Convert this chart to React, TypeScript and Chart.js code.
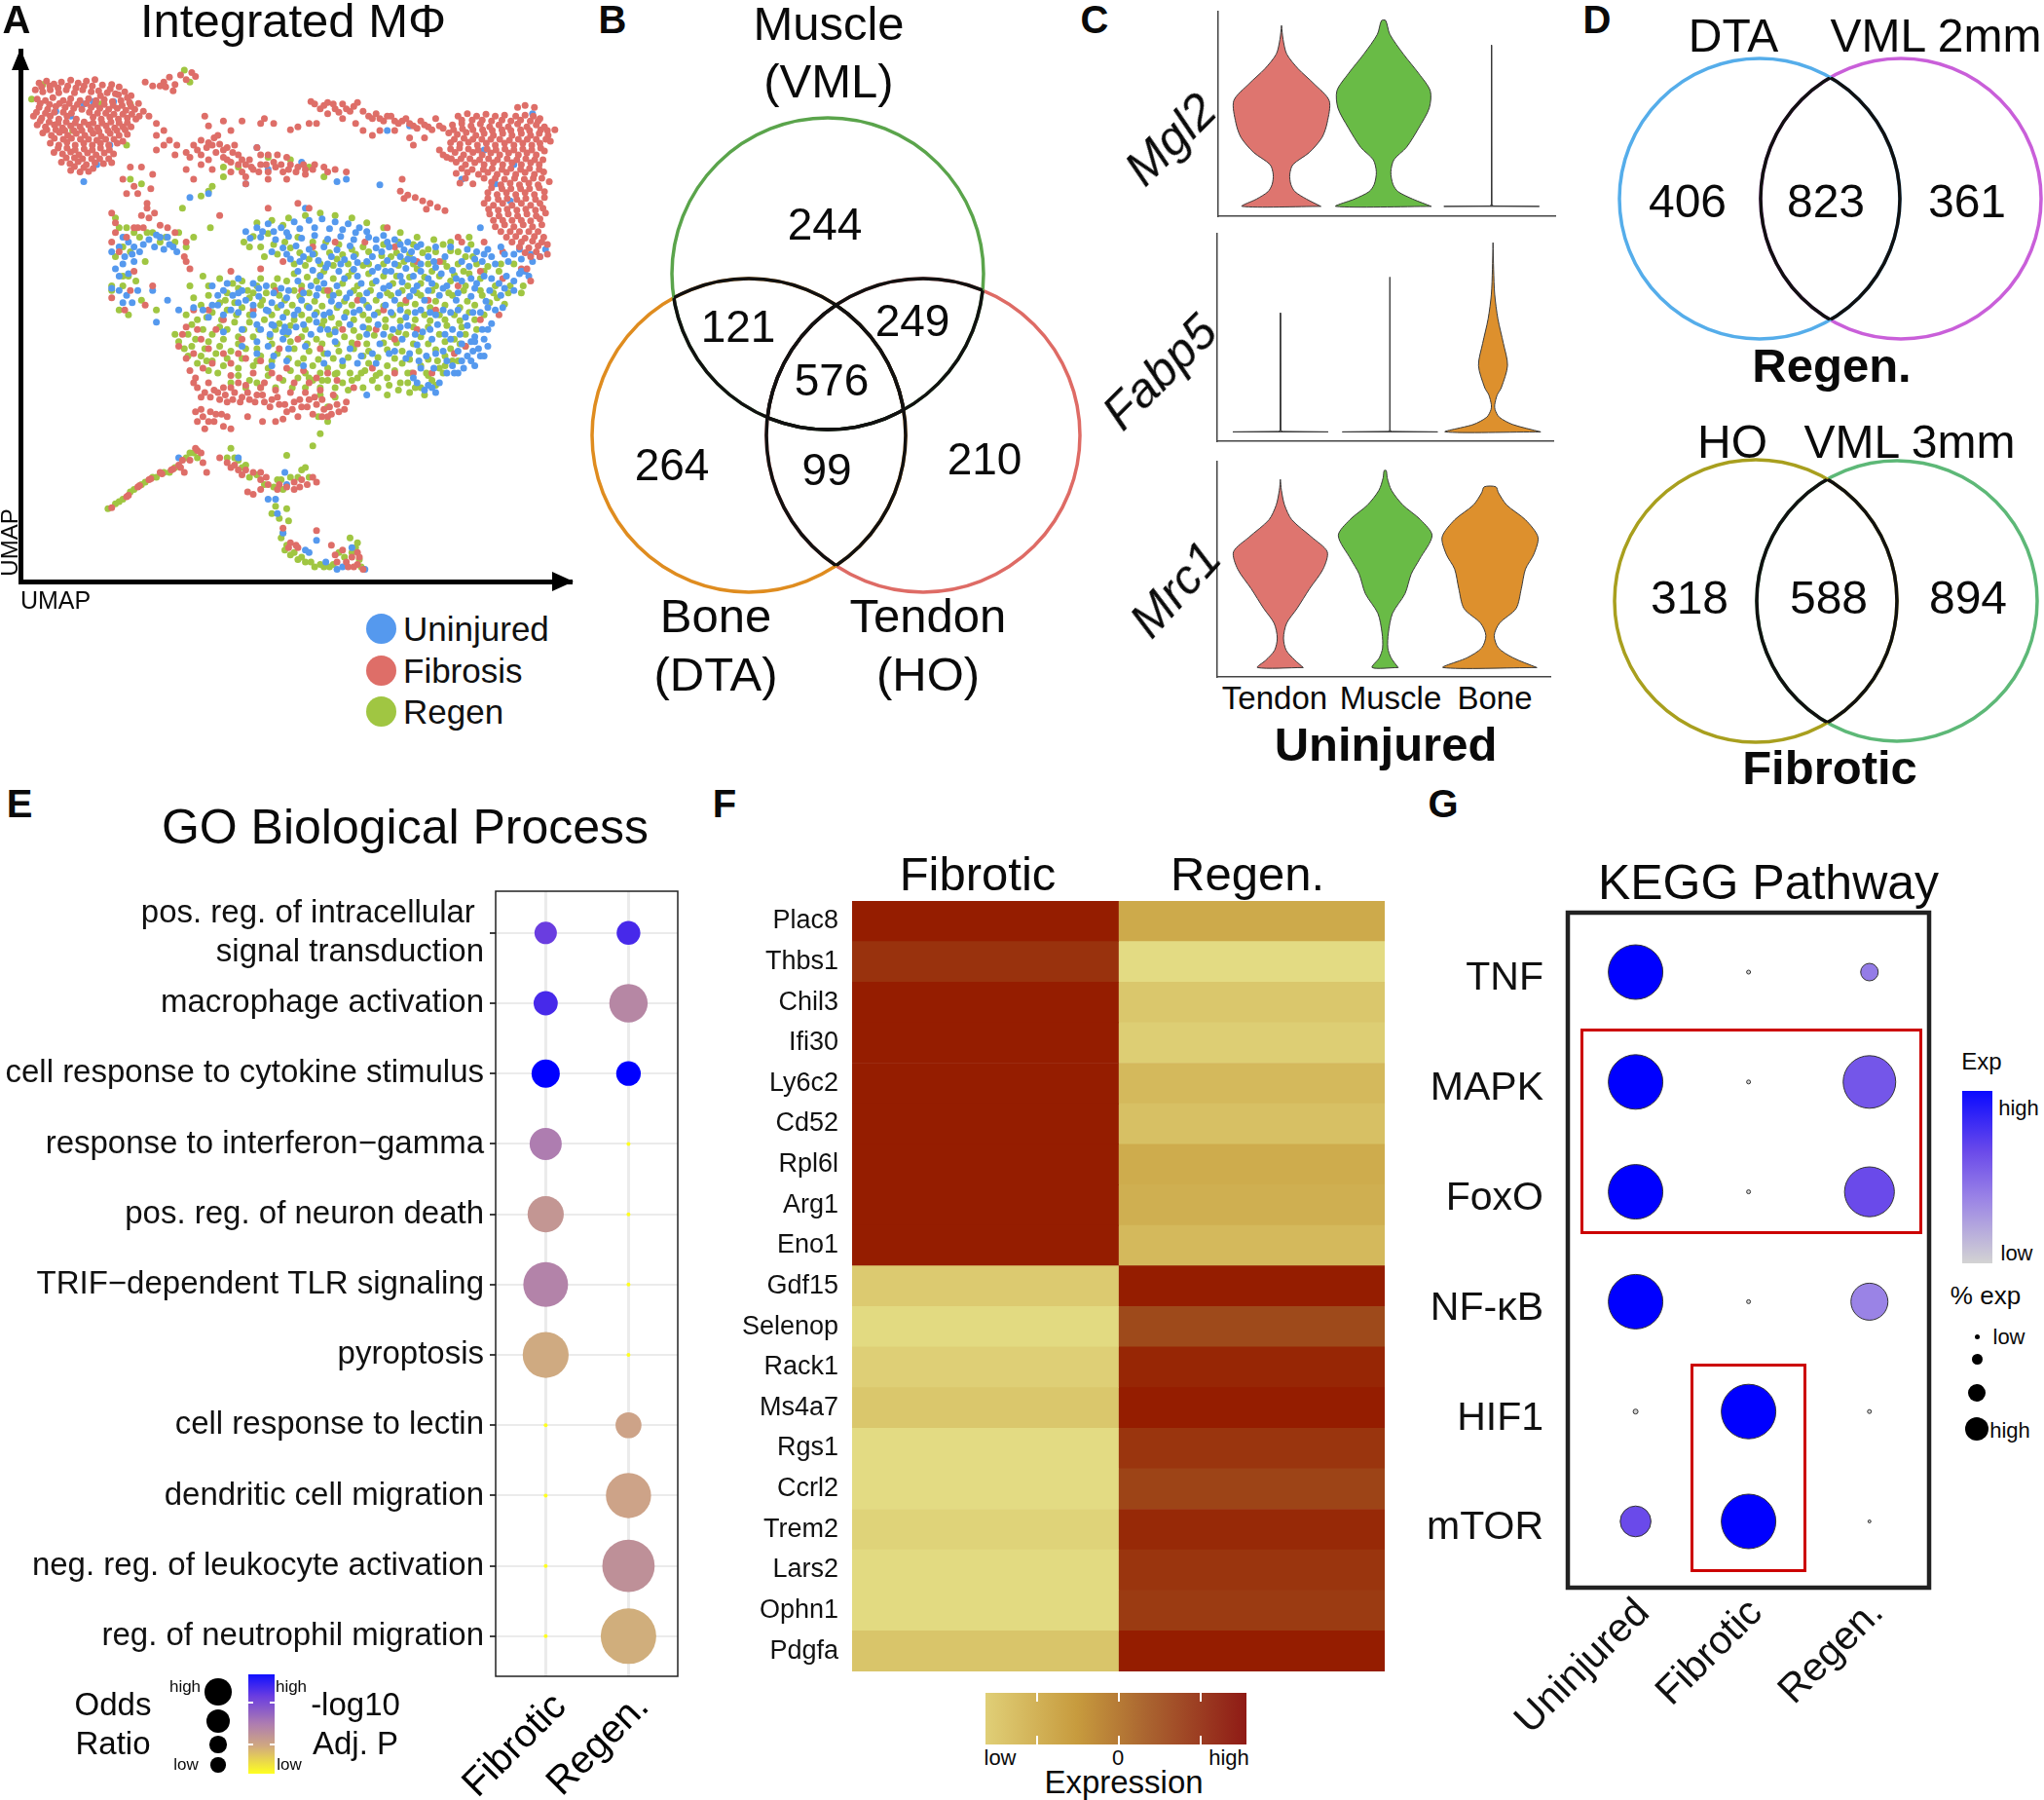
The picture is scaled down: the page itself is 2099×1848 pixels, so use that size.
import React, { useEffect, useRef } from "react";
import { Chart, registerables } from "chart.js";
Chart.register(...registerables);

const FONT = '"Liberation Sans", Arial, sans-serif';

// ---------- Panel A: UMAP embedding (x,y pairs, arbitrary UMAP units; y axis reversed)
const umapFibrosis = [
105,172,125,168,145,174,165,170,190,166,210,172,232,168,255,165,275,176,300,175,320,180,95,186,115,190,135,186,158,192,178,186,200,192,222,186,245,190,265,188,288,192,310,194,335,190,352,198,
100,205,122,208,142,202,170,208,190,204,215,208,238,204,258,208,280,206,302,210,325,208,348,212,372,214,105,222,128,226,150,220,175,222,198,224,220,226,245,222,268,224,292,226,315,224,338,228,362,226,385,230,
90,240,112,244,135,240,158,246,180,240,205,246,250,242,272,246,295,242,318,246,342,244,365,246,100,258,122,262,146,258,168,264,190,260,215,262,238,258,262,264,285,260,308,264,330,262,352,262,
115,275,138,280,160,274,182,280,205,276,228,280,250,276,272,282,296,276,320,280,342,278,135,296,158,300,180,294,202,300,225,296,248,300,270,296,292,300,315,296,145,315,168,318,190,314,212,320,235,316,258,320,280,316,305,318,
165,335,188,338,210,334,232,340,255,336,278,338,300,336,190,352,215,355,238,354,
112,180,134,178,156,182,182,178,204,182,226,178,248,178,270,198,296,184,318,196,342,202,108,214,133,216,160,214,186,214,208,216,232,214,256,216,280,216,304,218,328,218,352,220,374,240,
98,232,122,234,146,232,170,232,192,234,240,232,262,234,284,234,306,236,330,236,354,236,108,250,132,252,156,254,178,252,202,254,226,252,250,254,274,254,298,252,320,254,342,254,
126,268,150,268,174,270,198,270,220,270,244,268,266,272,290,270,314,270,336,268,146,286,170,288,192,286,216,288,238,288,260,290,284,288,306,288,330,292,
156,306,180,306,202,310,226,308,248,310,270,306,294,310,178,326,200,326,222,328,246,328,268,328,292,328,200,344,225,346,250,348,
440,170,455,160,470,175,485,155,500,165,515,150,525,158,445,180,465,188,430,178,390,170,410,178,400,240,420,255,440,270,455,290,475,300,350,345,330,370,360,385,405,390,410,360,380,345,
420,280,440,300,470,320,500,350,520,370,420,310,370,400,395,430,340,400,300,440,310,460,540,340,570,350,620,355,610,330,640,340,660,365,720,370,770,370,820,360,
500,315,520,300,540,290,560,295,575,285,590,298,610,305,630,300,540,320,560,330,580,315,600,325,620,335,640,320,660,340,680,350,700,340,720,355,740,345,760,355,780,340,800,345,820,350,650,355,670,330,700,320,690,305,720,320,745,320,770,325,845,340,870,345,900,350,930,355,880,355,550,240,600,250,650,250,700,255,710,245,735,255,560,260,585,280,620,270,
510,325,530,310,555,305,570,300,600,310,625,315,650,330,675,345,695,355,715,340,735,335,755,340,775,350,795,355,815,340,840,350,
835,210,860,225,880,212,900,225,920,215,940,230,960,212,975,230,990,240,1010,235,1030,250,1050,240,1070,255,1090,245,1110,260,1130,250,1150,262,1170,245,1190,265,850,255,800,262,780,268,830,255,920,245,975,270,1000,280,880,235,955,255,1020,270,1060,270,1100,285,1110,300,1140,285,1180,310,1200,325,
845,215,870,218,895,215,910,232,930,225,950,220,1000,245,1020,245,1040,240,1060,250,1080,250,1100,255,1120,265,1140,258,1160,268,1180,260,
1390,222,1410,218,1435,222,1230,240,1255,235,1280,240,1305,236,1330,240,1355,238,1385,240,1410,238,1432,240,1450,245,1215,258,1240,255,1265,260,1290,256,1315,262,1340,258,1365,262,1390,256,1415,262,1440,258,1462,262,1490,268,
1205,275,1228,278,1252,274,1278,280,1300,276,1325,280,1350,276,1375,280,1400,276,1425,280,1448,276,1472,280,1210,295,1235,298,1258,294,1282,300,1306,296,1330,300,1355,296,1380,300,1404,296,1428,300,1450,296,1478,292,
1190,320,1222,315,1245,320,1270,315,1295,320,1318,316,1342,320,1366,316,1392,320,1415,316,1440,320,1462,312,1225,335,1250,340,1275,336,1300,340,1325,336,1350,340,1375,336,1400,340,1425,336,1448,340,
1225,358,1255,356,1285,360,1310,356,1335,360,1360,356,1385,360,1410,356,1435,360,1460,355,1235,378,1270,380,1320,376,1345,382,1370,378,1395,382,1420,378,1445,382,1475,375,1310,398,1335,402,1360,398,1385,402,1410,398,1435,402,1462,396,
1300,420,1325,424,1350,420,1375,424,1400,420,1425,424,1450,420,1315,442,1340,446,1365,442,1390,446,1415,442,1440,446,1465,440,1330,468,1355,464,1380,468,1405,464,1430,468,1455,464,1360,490,1385,488,1410,492,1435,488,1460,490,
1240,248,1268,248,1295,248,1320,250,1348,248,1372,250,1398,248,1424,250,1445,250,1470,270,1218,268,1242,266,1270,268,1296,268,1322,270,1348,268,1372,270,1398,268,1422,270,1452,268,
1220,288,1246,286,1270,288,1294,288,1318,288,1342,288,1368,290,1392,288,1416,288,1440,288,1466,288,1210,308,1234,306,1258,308,1284,310,1308,308,1332,310,1356,308,1380,310,1404,308,1428,310,1452,306,
1212,328,1238,328,1262,328,1288,330,1312,328,1336,330,1362,328,1388,330,1412,328,1436,330,1458,330,1240,348,1268,350,1298,350,1322,348,1348,350,1372,348,1398,350,1422,348,1448,350,
1250,368,1300,368,1330,368,1355,370,1382,368,1408,370,1432,368,1455,368,1320,388,1348,390,1372,390,1398,390,1422,390,1448,388,1310,410,1338,412,1362,410,1388,412,1412,410,1438,412,1462,408,
1312,432,1338,434,1362,432,1388,434,1412,432,1438,434,1458,430,1325,455,1350,455,1375,455,1400,455,1425,456,1450,452,1345,478,1370,478,1395,478,1420,478,1445,478,1375,500,1400,500,1430,498,1455,500,1410,522,1440,520,
1395,510,1420,512,1445,508,1470,505,1425,530,1450,530,1470,525,1415,555,1425,580,1075,395,1095,403,1115,408,1135,415,1155,420,1175,428,1195,435,1085,410,1145,432,
310,480,340,490,320,520,370,470,400,450,430,465,470,480,495,530,510,555,360,560,410,590,300,615,335,640,380,445,395,420,415,440,300,500,360,470,385,470,450,470,500,500,350,600,390,630,
480,715,490,690,500,740,510,765,525,780,545,760,560,790,530,800,550,810,575,805,600,800,590,825,610,830,630,810,650,820,670,825,640,790,620,775,690,815,710,830,730,825,750,835,770,850,790,830,810,840,830,825,850,835,870,845,890,855,910,850,925,845,865,825,880,860,840,855,800,860,760,865,525,850,545,860,565,850,530,870,550,885,575,870,600,880,620,885,665,860,705,870,740,870,
520,790,540,820,565,820,585,810,605,815,625,825,645,830,665,810,685,830,705,815,725,840,745,820,765,835,785,845,805,825,825,840,845,820,865,860,885,840,905,835,540,845,560,870,580,855,595,855,610,860,620,800,660,795,700,800,740,805,780,810,820,810,860,805,895,815,930,830,
590,945,610,955,630,960,650,980,680,975,700,990,715,985,665,1015,680,1020,750,1000,770,1005,790,1010,810,990,850,995,840,985,620,965,640,970,660,970,700,975,720,1000,745,1010,790,995,805,1005,825,1000,700,1010,
300,1048,340,1025,370,1005,400,990,430,975,460,970,480,960,495,975,510,950,530,930,545,955,555,975,345,1022,375,1002,405,988,435,978,465,968,485,965,490,950,525,925,540,935,
760,1090,780,1120,800,1130,850,1095,890,1125,920,1135,945,1150,960,1165,935,1170,905,1160,975,1175,960,1140,775,1130,795,1125,900,1145,930,1160,950,1170,965,1150,1080,370,1230,490,830,430,720,430,800,420,660,380,590,445,500,540,
];
const umapFibrosisCore = [
560,640,600,660,650,700,700,745,750,720,800,700,860,720,920,680,960,710,1010,680,1060,700,1120,680,1170,640,1230,590,1290,560,1350,575,1400,555,1120,540,1060,510,980,500,900,500,840,510,760,540,700,555,620,560,580,680,520,640,540,700,520,730,570,750,620,750,660,740,730,770,770,760,830,790,880,770,950,800,1000,760,1060,770,1110,770,1160,770,1220,730,1250,715,1290,660,1340,650,1150,620,1090,620,1030,640,960,620,880,600,810,600,740,600,680,640,1180,540,1240,500,1300,500,1350,520,1040,470,
500,675,530,680,560,720,600,730,640,730,680,770,710,790,750,780,790,790,815,765,850,780,905,785,
];
const umapUninjured = [
660,478,690,470,720,462,755,470,790,458,830,455,865,452,900,458,935,462,965,470,700,490,740,495,775,488,810,492,845,486,880,494,915,488,950,495,990,490,1030,486,1060,495,1095,500,
760,512,795,508,830,515,870,510,905,516,940,508,1010,512,1045,510,1085,516,1120,510,780,535,815,530,855,538,890,530,925,536,960,542,1000,530,1040,538,1075,530,1110,536,1150,530,1280,520,1310,515,1345,510,1380,525,
840,558,875,552,910,560,950,556,1015,552,1050,560,1090,554,1130,560,1170,552,1215,558,1260,550,1295,540,1330,545,1365,540,1400,535,1430,540,1465,515,
640,575,570,590,600,600,680,585,715,590,755,595,800,580,835,590,870,585,905,590,970,585,1010,580,1045,590,1080,582,1120,590,1160,585,1200,590,1240,580,1280,585,1320,575,1360,570,1395,565,
545,640,585,630,625,610,660,620,695,612,730,625,770,615,810,620,850,610,890,622,930,615,975,620,1020,610,1060,620,1100,612,1140,620,1180,610,1225,620,1265,612,1305,622,1345,610,1380,600,
640,645,680,650,720,642,760,655,800,640,845,650,885,645,925,655,965,640,1005,650,1050,645,1090,655,1130,640,1170,650,1210,645,1250,655,1290,645,1330,640,
700,680,735,672,775,685,815,670,860,680,975,675,1015,670,1055,680,1095,672,1135,685,1175,670,1215,680,1255,672,1295,680,1320,668,690,705,720,715,760,700,900,705,1020,710,1080,700,1120,712,1160,700,1265,705,1300,700,1285,720,1310,715,
1240,745,1215,755,1255,735,1290,735,1275,755,1230,770,1200,770,960,750,1150,795,1120,790,1170,810,985,815,
672,492,705,478,735,478,770,480,805,472,845,470,885,472,920,474,955,480,985,478,1010,495,1040,500,1075,505,1105,520,730,520,770,525,805,540,840,525,880,545,915,545,950,530,985,540,1025,520,1060,545,1095,535,1130,545,1165,540,1195,530,1240,540,1275,535,1320,530,1355,525,1395,515,1425,525,1450,530,
800,560,860,570,925,575,960,570,1000,560,1035,560,1075,570,1110,570,1150,575,1185,565,1225,575,1265,575,1300,570,1340,585,1380,580,1410,560,610,585,650,600,695,595,735,605,775,600,815,605,855,595,895,610,940,605,985,605,1030,595,1070,605,1110,600,1150,600,1190,595,1230,605,1275,595,1315,600,1355,595,
560,655,600,650,640,625,680,630,715,640,755,630,790,650,830,635,870,650,910,630,950,645,990,635,1035,630,1075,640,1115,645,1155,645,1190,640,1230,640,1270,645,1310,635,1350,635,600,685,650,680,690,670,725,690,765,675,795,675,835,690,880,680,940,670,985,690,1030,690,1075,675,1115,690,1155,680,1195,690,1235,690,1275,695,1310,680,
650,715,735,735,775,720,820,715,880,730,940,720,1000,730,1060,725,1100,730,1145,735,1190,725,1230,725,1270,725,1300,735,1245,760,1265,745,1220,770,1180,790,1110,780,1140,805,1160,800,1130,760,1165,760,1200,745,
1130,505,1170,510,1210,510,1255,515,1300,525,1400,560,1420,570,1275,705,1240,710,1210,700,1170,730,1125,745,1090,740,1045,730,1010,750,970,735,920,745,870,750,815,755,770,745,730,755,690,730,900,685,850,665,760,685,730,670,620,640,585,610,640,605,520,635,570,630,
320,510,345,500,375,520,400,495,430,490,455,505,475,520,440,515,335,530,360,540,310,555,345,565,320,600,300,595,330,625,370,600,410,600,450,620,480,640,420,665,330,490,360,510,385,505,415,510,420,485,450,490,465,510,330,545,355,525,300,520,320,570,340,610,355,625,
510,408,560,400,690,305,820,430,930,370,1020,382,905,375,660,380,720,350,810,335,480,945,640,945,765,975,740,1030,760,1100,820,1135,850,1115,905,1175,980,1175,945,1130,770,1000,720,1030,745,1060,830,1140,875,1160,920,1170,
150,230,190,240,225,215,250,210,305,210,295,300,260,340,225,375,1100,260,1040,270,1240,370,1300,310,1330,380,1370,415,1430,235,1380,340,1290,470,
];
const umapRegen = [
680,488,720,482,760,465,735,505,780,512,655,500,700,510,745,525,805,522,845,524,885,522,920,526,955,525,990,520,1025,528,1065,522,1100,525,1135,522,1170,520,1210,518,1250,530,
820,548,860,545,895,548,935,545,975,548,1030,545,1070,548,1110,545,1150,545,1190,540,1230,545,1270,530,
510,590,545,570,590,575,625,585,665,600,700,575,745,575,790,565,825,572,860,568,895,575,935,570,990,565,1030,570,1065,570,1100,572,1140,572,1180,570,1220,568,1260,565,1300,560,1340,560,
520,615,560,610,605,620,640,595,680,605,715,605,750,610,790,600,830,605,870,600,910,605,950,600,995,600,1040,605,1080,600,1120,605,1160,600,1205,605,1245,600,1290,600,1330,590,1370,590,1405,590,
500,650,530,660,570,645,610,640,650,635,700,630,745,635,785,630,825,632,865,632,905,635,945,630,985,630,1030,632,1075,630,1115,628,1155,635,1195,630,1235,635,1275,630,1315,625,1355,628,
505,690,545,680,590,675,630,665,670,665,710,660,750,668,790,660,830,660,870,662,910,668,950,660,990,660,1035,660,1075,662,1115,660,1155,662,1195,660,1235,662,1275,660,
470,690,515,715,560,705,600,700,640,695,680,695,725,695,770,690,810,695,850,700,885,690,925,695,965,695,1005,692,1050,695,1090,690,1130,695,1180,690,1220,700,1250,690,
540,735,580,730,620,725,660,720,700,735,745,730,790,720,830,725,870,730,910,725,950,720,990,725,1040,722,1080,725,1125,725,1170,722,1210,720,
560,765,600,755,640,760,680,755,720,760,800,750,840,755,880,760,920,755,990,750,1040,755,1080,750,1130,755,1175,745,
670,785,690,790,760,785,800,780,840,785,880,785,920,790,960,780,1000,785,1040,780,1095,790,1130,800,1160,785,1190,770,1040,815,1100,810,1140,815,860,815,900,820,880,840,855,860,
670,510,710,530,765,500,800,490,840,500,875,500,910,505,945,515,975,510,1030,505,1070,500,1110,505,1150,515,1190,505,1230,520,1265,505,790,545,830,535,870,560,905,535,945,560,990,545,1050,530,1085,540,1120,555,1160,560,1200,550,1245,560,1280,545,1310,550,1345,545,1380,545,
560,590,610,605,650,580,690,590,735,590,770,580,810,590,850,580,885,600,920,585,960,590,1000,585,1055,585,1095,590,1130,585,1170,590,1210,580,1250,590,1290,575,1325,605,1365,605,1400,605,540,630,590,625,630,625,670,615,705,620,765,620,805,612,845,622,885,610,925,622,965,610,1010,620,1050,610,1090,625,1130,610,1170,622,1215,610,1255,622,1295,610,1335,615,
515,670,555,655,595,660,635,650,670,650,730,650,770,645,810,650,850,645,890,655,930,645,975,650,1015,645,1055,650,1095,645,1140,650,1180,650,1220,650,1260,645,1300,650,525,700,570,690,610,680,655,680,695,680,740,680,780,672,820,680,865,672,900,680,950,682,990,678,1035,675,1070,685,1110,675,1150,675,1200,672,1240,675,1280,680,
495,720,550,720,590,715,640,710,690,720,730,710,780,705,825,710,865,710,905,710,945,708,985,710,1030,708,1065,708,1110,710,1150,710,1195,705,1235,710,570,745,610,740,650,740,690,745,730,745,775,740,815,740,855,742,895,740,935,738,975,735,1015,738,1060,740,1100,742,1150,742,1195,735,
640,775,720,775,780,765,820,770,860,770,900,772,940,770,980,765,1020,770,1060,765,1105,770,1145,770,785,800,820,800,860,800,900,800,935,805,975,800,1015,800,1070,805,1115,800,1170,795,
480,705,505,735,530,750,555,745,585,770,620,790,660,800,700,800,740,800,
690,460,730,455,775,450,820,445,860,440,900,445,945,450,985,460,1030,470,1075,480,1120,490,1165,495,1210,500,1260,490,1250,715,1215,745,1180,760,1150,775,1195,755,1230,745,1095,770,1075,790,1045,795,1010,775,970,770,945,785,905,770,865,785,830,780,
300,600,330,590,345,570,360,480,395,480,430,500,480,480,520,490,565,470,320,470,340,470,375,490,410,480,445,490,470,500,500,510,330,510,310,530,350,520,390,540,330,570,365,580,300,590,320,640,345,650,380,620,420,640,
600,345,640,345,720,325,780,330,830,345,870,365,540,405,560,395,600,365,570,385,350,370,380,380,490,430,310,450,
620,925,880,870,860,895,840,920,770,940,640,950,660,960,690,980,745,990,780,985,810,970,830,985,760,1010,730,1060,770,1050,610,945,630,945,650,965,670,985,710,1000,735,1005,755,990,800,985,820,965,740,1045,750,1070,775,1075,
290,1050,320,1035,350,1015,380,1000,420,985,455,975,510,935,310,1040,330,1030,360,1010,390,995,410,985,440,975,470,965,500,945,520,935,530,945,
760,1100,770,1125,790,1140,810,1150,835,1160,860,1165,885,1170,910,1140,940,1110,955,1130,965,1155,755,1110,765,1135,780,1145,800,1155,820,1160,845,1170,870,1170,895,1165,925,1150,945,1140,960,1120,970,1170,
495,145,510,170,85,205,115,175,270,215,350,215,195,270,340,300,
];

// ---------- Panel B / D: Venn sets
const vennB = [
  { name: "Muscle (VML)", x: 850, y: 281, r: 160, color: "#5AA44B" },
  { name: "Bone (DTA)", x: 769, y: 447, r: 161, color: "#DF8C1F" },
  { name: "Tendon (HO)", x: 948, y: 447, r: 161, color: "#DE6B65" },
];
const vennRegen = [
  { name: "DTA", x: 1807, y: 204, r: 144, color: "#55ADEA" },
  { name: "VML 2mm", x: 1952, y: 204, r: 144, color: "#C95FD9" },
];
const vennFibrotic = [
  { name: "HO", x: 1803, y: 617, r: 145, color: "#A89F1E" },
  { name: "VML 3mm", x: 1948, y: 617, r: 144, color: "#5DB877" },
];

// ---------- Panel C: violin outlines (expression level, half width of density)
const mgl2TendonLevels = [0,.15,.3,.45,.65,.85,1.1,1.4,1.7,2.15,2.5,2.8,3.1,3.4,3.68];
const mgl2TendonWidths = [.38,.24,.13,.09,.08,.11,.27,.39,.44,.46,.31,.16,.05,.015,0];
const mgl2MuscleLevels = [0,.15,.3,.45,.7,.95,1.2,1.6,2,2.35,2.7,3.1,3.5,3.78];
const mgl2MuscleWidths = [.46,.28,.14,.09,.07,.1,.22,.34,.44,.45,.34,.19,.06,.02];
const mgl2BoneLevels = [0,.01,.03,3.28];
const mgl2BoneWidths = [.46,.02,.003,0];
const fabp5TendonLevels = [0,.01,.03,2.42];
const fabp5TendonWidths = [.46,.02,.003,0];
const fabp5MuscleLevels = [0,.01,.03,3.15];
const fabp5MuscleWidths = [.46,.02,.003,0];
const fabp5BoneLevels = [0,.15,.3,.45,.55,.75,.9,1.35,1.8,2.3,2.8,3.3,3.85];
const fabp5BoneWidths = [.46,.19,.06,.02,.016,.04,.08,.14,.1,.047,.016,.006,0];
const mrc1TendonLevels = [0,.15,.35,.6,.9,1.2,1.6,2,2.35,2.65,3,3.3,3.6,3.82];
const mrc1TendonWidths = [.22,.14,.056,.03,.06,.16,.28,.41,.45,.3,.11,.04,.01,0];
const mrc1MuscleLevels = [0,.2,.4,.7,1.1,1.5,1.9,2.2,2.68,3,3.3,3.6,3.85,4];
const mrc1MuscleWidths = [.125,.056,.025,.03,.07,.19,.25,.33,.45,.34,.17,.06,.02,.01];
const mrc1BoneLevels = [0,.2,.4,.65,.9,1.2,1.6,2,2.3,2.65,3,3.3,3.55,3.67];
const mrc1BoneWidths = [.45,.22,.08,.04,.09,.25,.3,.34,.42,.46,.34,.16,.08,.056];
const TENDON = "#DE756F", MUSCLE = "#69BB46", BONE = "#DD902D";

// ---------- Panel E: GO dot plot
const goTerms: (string | string[])[] = [
  ["pos. reg. of intracellular ", "signal transduction"],
  "macrophage activation",
  "cell response to cytokine stimulus",
  "response to interferon\u2212gamma",
  "pos. reg. of neuron death",
  "TRIF\u2212dependent TLR signaling",
  "pyroptosis",
  "cell response to lectin",
  "dendritic cell migration",
  "neg. reg. of leukocyte activation",
  "reg. of neutrophil migration",
];
const goColumns = ["Fibrotic", "Regen."];
const goOddsFibrotic = [11.5,12.4,14.5,16.5,18.6,23,23.6,2,2,2,2];
const goOddsRegen = [12.2,19.7,12.6,2,2,2,2,13.3,23.2,26.9,28.5];
const goLogPFibrotic = [.85,.9,1,.5,.37,.47,.25,0,0,0,0];
const goLogPRegen = [.9,.45,1,0,0,0,0,.3,.3,.4,.22];

// ---------- Panel F: heat map
const heatGenes = ["Plac8","Thbs1","Chil3","Ifi30","Ly6c2","Cd52","Rpl6l","Arg1","Eno1","Gdf15","Selenop","Rack1","Ms4a7","Rgs1","Ccrl2","Trem2","Lars2","Ophn1","Pdgfa"];
const heatFibrotic = [1,.93,1,1,1,1,1,1,1,.11,.02,.08,.13,.01,.01,.06,.02,.02,.14];
const heatRegen = [.3,.01,.13,.09,.21,.17,.29,.27,.21,1,.85,.97,1,.92,.87,.96,.92,.9,1];

// ---------- Panel G: KEGG dot plot
const keggPathways = ["TNF","MAPK","FoxO","NF-\u03BAB","HIF1","mTOR"];
const keggGroups = ["Uninjured","Fibrotic","Regen."];
const keggGroupPositions = [1,2,3.07];
const keggPctUninjured = [28,28,28,28,2.5,15.8];
const keggPctFibrotic = [2,2,2,2,28,28];
const keggPctRegen = [9,27,25.6,19,2,1.5];
const keggExpUninjured = [1,1,1,1,0,.75];
const keggExpFibrotic = [0,0,0,0,1,1];
const keggExpRegen = [.55,.7,.75,.52,0,0];

// ---------- helpers
type Stop = [number, number, number, number];
const hex = (v: number, h: string): Stop => [v, parseInt(h.slice(1,3),16), parseInt(h.slice(3,5),16), parseInt(h.slice(5,7),16)];
const ramp = (stops: Stop[]) => (v: number) => {
  let i = 0;
  while (i < stops.length - 2 && v > stops[i + 1][0]) i++;
  const a = stops[i], b = stops[i + 1];
  const t = Math.max(0, Math.min(1, (v - a[0]) / (b[0] - a[0])));
  return `rgb(${[1,2,3].map(k => Math.round(a[k] + (b[k] - a[k]) * t)).join(",")})`;
};
const goColor = ramp([hex(0,"#FFFF20"),hex(.22,"#D0AE7C"),hex(.3,"#CDA388"),hex(.4,"#BE9098"),hex(.5,"#AE7DB0"),hex(.85,"#6A3DE0"),hex(1,"#0000FF")]);
const heatColor = ramp([hex(0,"#E4DD85"),hex(.3,"#CDAA4B"),hex(.85,"#9E4A1B"),hex(1,"#951D00")]);
const keggColor = ramp([hex(0,"#D3D3D3"),hex(.52,"#9A83E6"),hex(.75,"#6A4AEA"),hex(1,"#0000FF")]);

const pairs = (flat: number[]) => {
  const out: { x: number; y: number }[] = [];
  for (let i = 0; i + 1 < flat.length; i += 2) out.push({ x: flat[i], y: flat[i + 1] });
  return out;
};
const base = { responsive: false, animation: false as const, events: [] as any[], devicePixelRatio: 1 };
const noPlugins = { legend: { display: false }, tooltip: { enabled: false } };
const hiddenAxis = (extra: any) => ({ type: "linear", display: false, ...extra });
const bareGrid = { display: false, drawTicks: false };
// axis of a fixed size that asks nothing extra of the layout
const fixAxis = (dim: "width" | "height", size: number) => (s: any) => {
  s[dim] = size; s.paddingTop = 0; s.paddingBottom = 0; s.paddingLeft = 0; s.paddingRight = 0;
};

const ChartBox = ({ left, top, width, height, make }: any) => {
  const ref = useRef<HTMLCanvasElement>(null);
  useEffect(() => {
    const c = new Chart(ref.current!, make());
    return () => c.destroy();
  }, []);
  return <canvas ref={ref} width={width} height={height} style={{ position: "absolute", left, top, width, height, display: "block" }} />;
};

const framePlugin = (w: number, color: string) => ({
  id: "frame",
  afterDatasetsDraw(chart: any) {
    const { ctx, chartArea: a } = chart;
    ctx.save(); ctx.strokeStyle = color; ctx.lineWidth = w;
    ctx.strokeRect(a.left, a.top, a.right - a.left, a.bottom - a.top);
    ctx.restore();
  },
});

// Panel A
const makeUmap = () => ({
  type: "scatter",
  data: { datasets: [
    { label: "Fibrosis", data: pairs(umapFibrosis), backgroundColor: "#DE6E68" },
    { label: "Uninjured", data: pairs(umapUninjured), backgroundColor: "#5599EE" },
    { label: "Fibrosis (core)", data: pairs(umapFibrosisCore), backgroundColor: "#DE6E68" },
    { label: "Regen", data: pairs(umapRegen), backgroundColor: "#A0C642" },
  ] },
  options: { ...base, layout: { autoPadding: false, padding: { left: 21, right: 23, top: 22, bottom: 23 } },
    elements: { point: { radius: 3.5, borderWidth: 0 } },
    plugins: noPlugins,
    scales: {
      x: { type: "linear", min: 55, max: 1535, ticks: { display: false }, grid: bareGrid, border: { color: "#000", width: 5 } },
      y: { type: "linear", min: 105, max: 1200, reverse: true, ticks: { display: false }, grid: bareGrid, border: { color: "#000", width: 5 } },
    } },
  plugins: [{ id: "arrows", afterDraw(chart: any) {
    const { ctx, chartArea: a } = chart;
    ctx.save(); ctx.fillStyle = "#000";
    ctx.beginPath(); ctx.moveTo(a.left, a.top - 2); ctx.lineTo(a.left - 9, a.top + 20); ctx.lineTo(a.left + 9, a.top + 20); ctx.fill();
    ctx.beginPath(); ctx.moveTo(a.right + 2, a.bottom); ctx.lineTo(a.right - 20, a.bottom - 10); ctx.lineTo(a.right - 20, a.bottom + 10); ctx.fill();
    ctx.restore();
  } }],
});

// Venn panels
const makeVenn = (sets: any[], left: number, top: number, width: number, height: number) => () => ({
  type: "bubble",
  data: { datasets: sets.map(s => ({ label: s.name, data: [{ x: s.x, y: s.y, r: s.r }], backgroundColor: "transparent", borderColor: s.color, borderWidth: 3.5, clip: false })) },
  options: { ...base, layout: { autoPadding: false }, plugins: noPlugins, scales: {
    x: hiddenAxis({ min: left, max: left + width }),
    y: hiddenAxis({ min: top, max: top + height, reverse: true }),
  } },
  plugins: [{ id: "overlap", afterDatasetsDraw(chart: any) {
    const { ctx, scales } = chart;
    const path = (s: any) => { ctx.beginPath(); ctx.arc(scales.x.getPixelForValue(s.x), scales.y.getPixelForValue(s.y), s.r, 0, Math.PI * 2); };
    sets.forEach((a, i) => sets.forEach((b, j) => {
      if (i === j) return;
      ctx.save(); path(b); ctx.clip(); path(a); ctx.strokeStyle = "#111"; ctx.lineWidth = 3.5; ctx.stroke(); ctx.restore();
    }));
  } }],
});

// Panel C
const violin = (center: number, levels: number[], widths: number[], color: string, tension = 0.28) => {
  const right = levels.map((y, i) => ({ x: center + widths[i], y }));
  const left = levels.map((y, i) => ({ x: center - widths[i], y })).reverse();
  return { data: [...right, ...left, right[0]], showLine: true, fill: "shape", tension, backgroundColor: color, borderColor: "#3a3a3a", borderWidth: 1, pointRadius: 0, clip: false };
};
const makeViolin = (datasets: any[], xr: number[], yr: number[]) => () => ({
  type: "scatter",
  data: { datasets },
  options: { ...base, plugins: noPlugins, layout: { autoPadding: false, padding: { left: 1, bottom: 1, right: 0, top: 0 } }, scales: {
    x: { type: "linear", min: xr[0], max: xr[1], ticks: { display: false }, grid: bareGrid, border: { color: "#444", width: 1.5 } },
    y: { type: "linear", min: yr[0], max: yr[1], ticks: { display: false }, grid: bareGrid, border: { color: "#444", width: 1.5 } },
  } },
});

// Panel E
const makeGo = () => ({
  type: "bubble",
  data: { datasets: [
    { label: "Fibrotic", data: goOddsFibrotic.map((r, i) => ({ x: 1, y: i + 1, r })), backgroundColor: goLogPFibrotic.map(goColor), borderWidth: 0 },
    { label: "Regen.", data: goOddsRegen.map((r, i) => ({ x: 2, y: i + 1, r })), backgroundColor: goLogPRegen.map(goColor), borderWidth: 0 },
  ] },
  options: { ...base, plugins: noPlugins, layout: { autoPadding: false, padding: { top: 1, right: 1 } }, scales: {
    x: { type: "linear", min: .396, max: 2.595,
      afterBuildTicks: (s: any) => { s.ticks = [{ value: 1 }, { value: 2 }]; },
      afterFit: fixAxis("height", 127),
      grid: { color: "#ebebeb", lineWidth: 3, drawTicks: false }, border: { display: false },
      ticks: { callback: (v: number) => goColumns[v - 1], minRotation: 45, maxRotation: 45, autoSkip: false, padding: 8, labelOffset: 15, color: "#000", font: { family: FONT, size: 40 } } },
    y: { type: "linear", min: .407, max: 11.57, reverse: true,
      afterBuildTicks: (s: any) => { s.ticks = goTerms.map((_, i) => ({ value: i + 1 })); },
      afterFit: fixAxis("width", 509),
      grid: { color: "#ebebeb", lineWidth: 2, tickColor: "#000", tickWidth: 1.5, tickLength: 6 }, border: { display: false },
      ticks: { callback: (v: number) => goTerms[v - 1], autoSkip: false, padding: 6, color: "#111", font: { family: FONT, size: 33, lineHeight: 1.2 } } },
  } },
  plugins: [framePlugin(1.5, "#222")],
});

// Panel F
const makeHeat = () => ({
  type: "bar",
  data: { labels: heatGenes, datasets: [
    { label: "Fibrotic", data: heatGenes.map(() => [0, 1]), backgroundColor: heatFibrotic.map(heatColor), grouped: false, barPercentage: 1, categoryPercentage: 1 },
    { label: "Regen.", data: heatGenes.map(() => [1, 2]), backgroundColor: heatRegen.map(heatColor), grouped: false, barPercentage: 1, categoryPercentage: 1 },
  ] },
  options: { ...base, indexAxis: "y", plugins: noPlugins, layout: { autoPadding: false, padding: { right: 1 } }, scales: {
    x: { type: "linear", display: false, min: 0, max: 2 },
    y: { type: "category", afterFit: fixAxis("width", 155), grid: bareGrid, border: { display: false },
      ticks: { autoSkip: false, padding: 14, color: "#111", font: { family: FONT, size: 27 } } },
  } },
});

// Panel G
const makeKegg = () => ({
  type: "bubble",
  data: { datasets: [
    { label: "Uninjured", data: keggPctUninjured.map((r, i) => ({ x: keggGroupPositions[0], y: i + 1, r })), backgroundColor: keggExpUninjured.map(keggColor) },
    { label: "Fibrotic", data: keggPctFibrotic.map((r, i) => ({ x: keggGroupPositions[1], y: i + 1, r })), backgroundColor: keggExpFibrotic.map(keggColor) },
    { label: "Regen.", data: keggPctRegen.map((r, i) => ({ x: keggGroupPositions[2], y: i + 1, r })), backgroundColor: keggExpRegen.map(keggColor) },
  ].map(d => ({ ...d, borderColor: "#333", borderWidth: 1 })) },
  options: { ...base, plugins: noPlugins, layout: { autoPadding: false, padding: { top: 7, right: 9 } }, scales: {
    x: { type: "linear", min: .4, max: 3.598,
      afterBuildTicks: (s: any) => { s.ticks = keggGroupPositions.map(value => ({ value })); },
      afterFit: fixAxis("height", 218),
      grid: bareGrid, border: { display: false },
      ticks: { callback: (v: number) => keggGroups[keggGroupPositions.indexOf(v)], minRotation: 45, maxRotation: 45, autoSkip: false, padding: 2, labelOffset: 8, color: "#111", font: { family: FONT, size: 41 } } },
    y: { type: "linear", min: .459, max: 6.603, reverse: true,
      afterBuildTicks: (s: any) => { s.ticks = keggPathways.map((_, i) => ({ value: i + 1 })); },
      afterFit: fixAxis("width", 170),
      grid: bareGrid, border: { display: false },
      ticks: { callback: (v: number) => keggPathways[v - 1], autoSkip: false, padding: 25, labelOffset: 7, color: "#111", font: { family: FONT, size: 41 } } },
  } },
  plugins: [framePlugin(4.5, "#222")],
});

// ---------- text and legends
type Lab = [string, number, number, number, any?];
const labels: Lab[] = [
  ["A",17,20,40,{b:1}],["B",629,20,40,{b:1}],["C",1124,20,40,{b:1}],["D",1640,20,40,{b:1}],["E",20,825,40,{b:1}],["F",744,825,40,{b:1}],["G",1482,825,40,{b:1}],
  ["Integrated M\u03A6",301,21,49],["UMAP",10,557,24,{r:-90}],["UMAP",57,616,25],
  ["Muscle",851,24,49],["(VML)",851,83,49],["244",847,230,46],["121",758,335,46],["249",937,329,46],["576",854,390,46],["264",690,477,46],["99",849,482,46],["210",1011,471,46],
  ["Bone",735,632,49],["(DTA)",735,692,49],["Tendon",953,632,49],["(HO)",953,692,49],
  ["Mgl2",1202,143,50,{r:-45,i:1}],["Fabp5",1191,382,50,{r:-45,i:1}],["Mrc1",1207,605,50,{r:-48,i:1}],
  ["Tendon",1309,716,33],["Muscle",1428,716,33],["Bone",1535,716,33],["Uninjured",1423,764,49,{b:1}],
  ["DTA",1780,37,48],["VML 2mm",1988,37,48],["406",1733,207,48],["823",1875,207,48],["361",2020,207,48],["Regen.",1881,375,49,{b:1}],
  ["HO",1779,454,48],["VML 3mm",1961,454,48],["318",1735,614,48],["588",1878,614,48],["894",2021,614,48],["Fibrotic",1879,788,49,{b:1}],
  ["GO Biological Process",416,849,50],
  ["Odds",116,1749,33],["Ratio",116,1789,33],["high",190,1731,17],["low",191,1811,17],["high",299,1731,17],["low",297,1811,17],["-log10",365,1749,33],["Adj. P",365,1789,33],
  ["Fibrotic",1004,897,49],["Regen.",1281,897,49],["low",1027,1805,22],["0",1148,1805,22],["high",1262,1805,22],["Expression",1154,1829,33],
  ["KEGG Pathway",1816,906,50],
  ["Exp",2035,1090,24],["high",2073,1138,22],["low",2071,1287,22],["% exp",2039,1330,26],["low",2063,1373,22],["high",2064,1469,22],
];
const umapLegend: [string, string, number][] = [["Uninjured","#5599EE",645],["Fibrosis","#DE6E68",688],["Regen","#A0C642",730]];
const oddsLegend = [[1737,13.8],[1767,12.2],[1791,8.7],[1812,7.6]];
const pctLegend = [[1372,2.5],[1395,5.5],[1430,9],[1467,12]];

const Txt = ({ t, x, y, s, o = {} }: any) => (
  <div style={{ position: "absolute", left: x, top: y, transform: `translate(-50%,-50%) rotate(${o.r || 0}deg)`, whiteSpace: "nowrap", lineHeight: 1, fontFamily: FONT, fontSize: s, fontWeight: o.b ? 700 : 400, fontStyle: o.i ? "italic" : "normal", color: "#0a0a0a" }}>{t}</div>
);
const Dot = ({ x, y, r, c }: any) => <div style={{ position: "absolute", left: x - r, top: y - r, width: 2 * r, height: 2 * r, borderRadius: "50%", background: c }} />;
const Box = ({ l, t, w, h, bg, border }: any) => <div style={{ position: "absolute", left: l, top: t, width: w, height: h, background: bg, border, boxSizing: "border-box" }} />;

export default function App() {
  return (
    <div style={{ position: "absolute", left: 0, top: 0, width: 2099, height: 1848, background: "#fff", overflow: "hidden" }}>
      <ChartBox left={0} top={30} width={610} height={590} make={makeUmap} />
      <ChartBox left={600} top={100} width={530} height={530} make={makeVenn(vennB, 600, 100, 530, 530)} />
      <ChartBox left={1650} top={50} width={449} height={310} make={makeVenn(vennRegen, 1650, 50, 449, 310)} />
      <ChartBox left={1650} top={460} width={449} height={320} make={makeVenn(vennFibrotic, 1650, 460, 449, 320)} />
      <ChartBox left={1250} top={11} width={348} height={212} make={makeViolin([
        violin(1, mgl2TendonLevels, mgl2TendonWidths, TENDON), violin(1.984, mgl2MuscleLevels, mgl2MuscleWidths, MUSCLE), violin(3.025, mgl2BoneLevels, mgl2BoneWidths, "#555", 0),
      ], [.39, 3.647], [-.2, 3.98])} />
      <ChartBox left={1249} top={239} width={347} height={215} make={makeViolin([
        violin(1, fabp5TendonLevels, fabp5TendonWidths, "#555", 0), violin(2.056, fabp5MuscleLevels, fabp5MuscleWidths, "#555", 0), violin(3.05, fabp5BoneLevels, fabp5BoneWidths, BONE),
      ], [.39, 3.64], [-.19, 4.05])} />
      <ChartBox left={1249} top={473} width={344} height={223} make={makeViolin([
        violin(1, mrc1TendonLevels, mrc1TendonWidths, TENDON), violin(2.006, mrc1MuscleLevels, mrc1MuscleWidths, MUSCLE), violin(3.0125, mrc1BoneLevels, mrc1BoneWidths, BONE),
      ], [.394, 3.6], [-.19, 4.2])} />
      <ChartBox left={0} top={914} width={697} height={934} make={makeGo} />
      <ChartBox left={720} top={925} width={703} height={791} make={makeHeat} />
      <ChartBox left={1440} top={930} width={550} height={918} make={makeKegg} />

      {umapLegend.map(([t, c, y]) => <React.Fragment key={t}>
        <Dot x={391} y={y} r={15.5} c={c} />
        <div style={{ position: "absolute", left: 414, top: y, transform: "translateY(-50%)", fontFamily: FONT, fontSize: 35, lineHeight: 1, color: "#111" }}>{t}</div>
      </React.Fragment>)}
      {oddsLegend.map(([y, r]) => <Dot key={y} x={224} y={y} r={r} c="#000" />)}
      <Box l={255} t={1719} w={27} h={102} bg="linear-gradient(to bottom,#1010FF 0%,#6A3DE0 22%,#AE7DB0 50%,#D0A880 72%,#FFFF20 100%)" />
      {[1747, 1790].map(y => <React.Fragment key={y}><Box l={255} t={y} w={5} h={1.5} bg="#fff" /><Box l={277} t={y} w={5} h={1.5} bg="#fff" /></React.Fragment>)}
      <Box l={1012} t={1738} w={268} h={53} bg="linear-gradient(to right,#E0CF77 0%,#C79B3E 35%,#AA6430 62%,#8F1A15 100%)" />
      {[1064, 1148, 1232].map(x => <React.Fragment key={x}><Box l={x} t={1738} w={2} h={9} bg="#fff" /><Box l={x} t={1782} w={2} h={9} bg="#fff" /></React.Fragment>)}
      <Box l={1623} t={1056} w={351} h={211} border="3px solid #CC0000" />
      <Box l={1736} t={1400} w={119} h={214} border="3px solid #CC0000" />
      <Box l={2015} t={1120} w={31} h={177} bg="linear-gradient(to bottom,#0A0AFF 0%,#6A4AEA 35%,#9A83E6 62%,#D3D3D3 100%)" />
      {pctLegend.map(([y, r]) => <Dot key={y} x={2030} y={y} r={r} c="#000" />)}
      {labels.map(([t, x, y, s, o], i) => <Txt key={i} t={t} x={x} y={y} s={s} o={o} />)}
    </div>
  );
}
